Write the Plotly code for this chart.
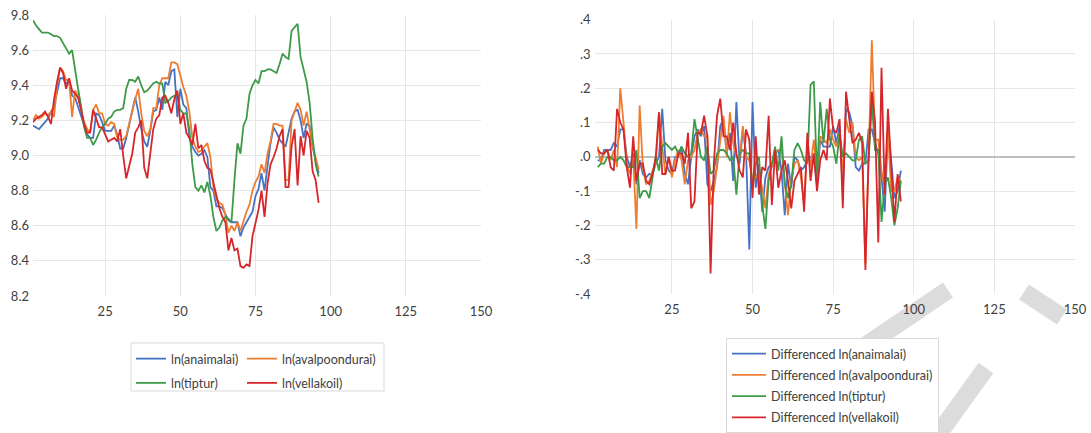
import plotly.graph_objects as go

# ---------------- data ----------------
x_level = list(range(1, 97))
x_diff = list(range(2, 97))

ln_anaimalai = [9.17, 9.16, 9.15, 9.17, 9.19, 9.21, 9.25, 9.28, 9.36, 9.44,
                9.44, 9.41, 9.42, 9.34, 9.33, 9.28, 9.22, 9.17, 9.12, 9.10,
                9.10, 9.24, 9.23, 9.19, 9.14, 9.14, 9.14, 9.17, 9.12, 9.04,
                9.04, 9.10, 9.18, 9.24, 9.33, 9.25, 9.15, 9.08, 9.05, 9.14,
                9.25, 9.26, 9.33, 9.26, 9.42, 9.40, 9.48, 9.49, 9.22, 9.38,
                9.29, 9.27, 9.11, 9.05, 9.02, 9.00, 9.01, 9.03, 8.99, 8.82,
                8.80, 8.71, 8.71, 8.70, 8.66, 8.63, 8.62, 8.62, 8.62, 8.54,
                8.59, 8.62, 8.65, 8.68, 8.77, 8.81, 8.90, 8.80, 8.94, 9.07,
                9.16, 9.13, 9.09, 9.07, 9.05, 9.13, 9.21, 9.25, 9.26, 9.20,
                9.10, 9.18, 9.17, 9.05, 8.98, 8.90]

ln_avalpoondurai = [9.20, 9.23, 9.21, 9.22, 9.24, 9.23, 9.25, 9.22, 9.40, 9.50,
                    9.48, 9.43, 9.43, 9.22, 9.37, 9.34, 9.26, 9.19, 9.15, 9.13,
                    9.26, 9.29, 9.24, 9.24, 9.18, 9.17, 9.19, 9.18, 9.10, 9.09,
                    9.09, 9.11, 9.18, 9.26, 9.32, 9.38, 9.24, 9.14, 9.11, 9.15,
                    9.27, 9.27, 9.40, 9.44, 9.44, 9.44, 9.53, 9.53, 9.52, 9.45,
                    9.39, 9.34, 9.25, 9.10, 9.05, 9.02, 9.03, 9.05, 9.07, 8.99,
                    8.82, 8.75, 8.73, 8.72, 8.66, 8.56, 8.60, 8.57, 8.62, 8.57,
                    8.63, 8.68, 8.72, 8.80, 8.85, 8.88, 8.95, 8.90, 9.01, 9.08,
                    9.18, 9.18, 9.17, 9.17, 8.86, 8.86, 9.20, 9.25, 9.30, 9.26,
                    9.17, 9.25, 9.15, 9.05, 8.99, 8.92]

ln_tiptur = [9.77, 9.74, 9.72, 9.70, 9.70, 9.70, 9.69, 9.68, 9.68, 9.67,
             9.64, 9.61, 9.58, 9.60, 9.48, 9.38, 9.28, 9.16, 9.10, 9.10,
             9.06, 9.09, 9.13, 9.16, 9.18, 9.21, 9.22, 9.25, 9.26, 9.26,
             9.27, 9.38, 9.43, 9.43, 9.42, 9.45, 9.40, 9.36, 9.37, 9.39,
             9.41, 9.42, 9.41, 9.41, 9.30, 9.31, 9.33, 9.34, 9.35, 9.26,
             9.24, 9.24, 9.15, 8.95, 8.82, 8.80, 8.83, 8.79, 8.85, 8.77,
             8.65, 8.57, 8.59, 8.63, 8.65, 8.64, 8.62, 8.86, 9.07, 9.01,
             9.17, 9.21, 9.35, 9.40, 9.43, 9.41, 9.48, 9.48, 9.49, 9.49,
             9.48, 9.47, 9.52, 9.58, 9.56, 9.55, 9.71, 9.73, 9.75, 9.56,
             9.48, 9.42, 9.30, 9.10, 8.95, 8.88]

ln_vellakoil = [9.19, 9.21, 9.22, 9.23, 9.25, 9.22, 9.18, 9.32, 9.42, 9.50,
                9.47, 9.38, 9.44, 9.37, 9.35, 9.33, 9.26, 9.18, 9.13, 9.13,
                9.26, 9.21, 9.16, 9.16, 9.12, 9.08, 9.09, 9.10, 9.08, 9.15,
                9.00, 8.87, 8.94, 9.01, 9.13, 9.16, 9.20, 8.93, 8.87, 9.01,
                9.15, 9.21, 9.23, 9.33, 9.34, 9.30, 9.24, 9.32, 9.37, 9.18,
                9.24, 9.13, 9.10, 9.06, 9.18, 9.04, 9.06, 8.97, 8.93, 8.92,
                8.85, 8.77, 8.70, 8.65, 8.62, 8.46, 8.53, 8.46, 8.47, 8.37,
                8.36, 8.38, 8.37, 8.54, 8.62, 8.69, 8.80, 8.65, 8.84, 8.95,
                8.99, 9.04, 9.11, 9.15, 8.82, 8.82, 9.05, 9.15, 8.83, 9.11,
                9.00, 9.14, 9.10, 8.91, 8.86, 8.73]

d_anaimalai = [-0.01, -0.01, 0.02, 0.02, 0.02, 0.04, 0.03, 0.08, 0.08,
               0.00, -0.03, 0.01, -0.08, -0.01, -0.05, -0.06, -0.05, -0.05, -0.02,
               0.00, 0.14, -0.01, -0.04, -0.05, 0.00, 0.00, 0.03, -0.05, -0.08,
               0.00, 0.06, 0.08, 0.06, 0.09, -0.08, -0.10, -0.07, -0.03, 0.09,
               0.11, 0.01, 0.07, -0.07, 0.16, -0.02, 0.08, 0.01, -0.27, 0.16,
               -0.09, -0.02, -0.16, -0.06, -0.03, -0.02, 0.01, 0.02, -0.04, -0.17,
               -0.02, -0.09, 0.00, -0.01, -0.04, -0.03, -0.01, 0.00, 0.00, -0.08,
               0.05, 0.03, 0.03, 0.03, 0.09, 0.04, 0.09, -0.10, 0.14, 0.13,
               0.09, -0.03, -0.04, -0.02, -0.02, 0.08, 0.08, 0.04, 0.01, -0.06,
               -0.16, 0.08, -0.01, -0.12, -0.10, -0.04]

d_avalpoondurai = [0.03, -0.02, 0.01, 0.02, -0.01, 0.02, -0.03, 0.20, 0.10,
                   -0.02, -0.05, 0.00, -0.21, 0.15, -0.03, -0.08, -0.07, -0.04, -0.02,
                   0.13, 0.03, -0.05, 0.00, -0.06, -0.01, 0.02, -0.01, -0.08, -0.01,
                   0.00, 0.02, 0.07, 0.08, 0.06, 0.06, -0.14, -0.10, -0.03, 0.04,
                   0.12, 0.00, 0.13, 0.04, 0.00, 0.00, 0.09, 0.00, -0.01, -0.07,
                   -0.06, -0.05, -0.09, -0.15, -0.05, -0.03, 0.01, 0.02, 0.02, -0.08,
                   -0.17, -0.07, -0.02, -0.01, -0.06, -0.14, 0.04, -0.03, 0.05, -0.05,
                   0.06, 0.05, 0.04, 0.08, 0.05, 0.03, 0.07, -0.05, 0.11, 0.07,
                   0.10, 0.00, -0.01, 0.00, -0.31, 0.00, 0.34, 0.05, 0.05, -0.04,
                   -0.09, 0.08, -0.10, -0.10, -0.06, -0.07]

d_tiptur = [-0.03, -0.02, -0.02, 0.00, 0.00, -0.01, -0.01, 0.00, -0.01,
            -0.03, -0.03, -0.03, 0.02, -0.12, -0.10, -0.10, -0.12, -0.06, 0.00,
            -0.04, 0.03, 0.04, 0.03, 0.02, 0.03, 0.01, 0.03, 0.01, 0.00,
            0.01, 0.11, 0.05, 0.00, -0.01, 0.03, -0.05, -0.04, 0.01, 0.02,
            0.02, 0.01, -0.01, 0.00, -0.11, 0.01, 0.02, 0.01, 0.01, -0.09,
            -0.02, 0.00, -0.14, -0.21, -0.07, -0.02, 0.03, -0.04, 0.06, -0.08,
            -0.12, -0.08, 0.02, 0.04, 0.02, -0.01, -0.02, 0.21, 0.22, -0.06,
            0.16, 0.04, 0.14, 0.05, 0.03, -0.02, 0.07, 0.00, 0.01, 0.00,
            -0.01, -0.01, 0.05, 0.06, -0.02, -0.01, 0.16, 0.02, 0.02, -0.19,
            -0.08, -0.06, -0.12, -0.20, -0.15, -0.07]

d_vellakoil = [0.02, 0.01, 0.01, 0.02, -0.03, -0.04, 0.14, 0.10, 0.08,
               -0.03, -0.09, 0.06, -0.07, -0.02, -0.02, -0.07, -0.08, -0.05, 0.00,
               0.13, -0.05, -0.05, 0.00, -0.04, -0.04, 0.01, 0.01, -0.02, 0.07,
               -0.15, -0.13, 0.07, 0.07, 0.12, 0.06, -0.34, -0.02, 0.12, 0.17,
               0.06, 0.06, 0.02, 0.10, 0.01, -0.04, -0.06, 0.08, 0.05, -0.12,
               0.06, -0.11, -0.03, -0.04, 0.12, -0.14, 0.02, -0.09, -0.04, -0.01,
               -0.07, -0.15, -0.07, -0.05, -0.03, -0.16, 0.07, -0.07, 0.01, -0.10,
               -0.01, 0.02, -0.01, 0.17, 0.08, 0.07, 0.11, -0.15, 0.19, 0.11,
               0.04, 0.05, 0.07, 0.04, -0.33, 0.00, 0.19, 0.10, -0.25, 0.26,
               -0.11, 0.14, -0.04, -0.19, -0.05, -0.13]

x_ticks = [25, 50, 75, 100, 125, 150]
y1_ticks = [8.2, 8.4, 8.6, 8.8, 9.0, 9.2, 9.4, 9.6, 9.8]
y1_labels = ["8.2", "8.4", "8.6", "8.8", "9.0", "9.2", "9.4", "9.6", "9.8"]
y2_ticks = [-0.4, -0.3, -0.2, -0.1, 0.0, 0.1, 0.2, 0.3, 0.4]
y2_labels = ["-.4", "-.3", "-.2", "-.1", ".0", ".1", ".2", ".3", ".4"]

# ---------------- figure ----------------
W, H = 1091, 433
BLUE, ORANGE, GREEN, RED = "#4472C4", "#ED7D31", "#3D9A48", "#D7262B"
FONT = "Lato, 'Open Sans', sans-serif"
TXT = "#404040"


def px_x(p):
    return p / W


def px_y(p):
    return (H - p) / H


fig = go.Figure()

# left chart: two legend columns (col 1: anaimalai, tiptur; col 2: avalpoondurai, vellakoil)
level_series = [("ln(anaimalai)", ln_anaimalai, BLUE, "legend"),
                ("ln(avalpoondurai)", ln_avalpoondurai, ORANGE, "legend3"),
                ("ln(tiptur)", ln_tiptur, GREEN, "legend"),
                ("ln(vellakoil)", ln_vellakoil, RED, "legend3")]
for name, vals, col, leg in level_series:
    fig.add_trace(go.Scatter(x=x_level, y=vals, mode="lines", name=name,
                             line=dict(color=col, width=1.8),
                             xaxis="x", yaxis="y", legend=leg,
                             legendgroup=name))

diff_series = [("Differenced ln(anaimalai)", d_anaimalai, BLUE),
               ("Differenced ln(avalpoondurai)", d_avalpoondurai, ORANGE),
               ("Differenced ln(tiptur)", d_tiptur, GREEN),
               ("Differenced ln(vellakoil)", d_vellakoil, RED)]
for name, vals, col in diff_series:
    fig.add_trace(go.Scatter(x=x_diff, y=vals, mode="lines", name=name,
                             line=dict(color=col, width=1.8),
                             xaxis="x2", yaxis="y2", legend="legend2",
                             legendgroup=name))

grid = "#e6e6e6"
axis_common = dict(showline=False, ticks="", showgrid=True, automargin=False,
                   gridcolor=grid, gridwidth=1,
                   tickfont=dict(family=FONT, size=13, color=TXT))

leg_font = dict(family=FONT, size=12.5, color=TXT)

# light-grey watermark strokes (bottom right of the page)
WM = "#dcdcdc"
wm_strokes = [((948, 290), (862, 348)),
              ((986, 368), (934, 440)),
              ((1024, 292), (1062, 317))]
shapes = [dict(type="line", xref="paper", yref="paper",
               x0=px_x(a[0]), y0=px_y(a[1]), x1=px_x(b[0]), y1=px_y(b[1]),
               line=dict(color=WM, width=18), layer="below")
          for a, b in wm_strokes]
shapes.append(dict(type="rect", xref="paper", yref="paper",
                   x0=px_x(131), x1=px_x(384), y0=px_y(391), y1=px_y(343),
                   line=dict(color="#d9d9d9", width=1), fillcolor="white",
                   layer="above"))

fig.update_layout(
    width=W, height=H,
    margin=dict(l=0, r=0, t=0, b=0, autoexpand=False),
    paper_bgcolor="white", plot_bgcolor="white",
    font=dict(family=FONT, size=12, color=TXT),
    xaxis=dict(domain=[px_x(33), px_x(481)], anchor="y", range=[1, 150],
               tickvals=x_ticks, ticklabelstandoff=6, zeroline=False,
               **axis_common),
    yaxis=dict(domain=[px_y(296), px_y(15)], anchor="x", range=[8.2, 9.8],
               tickvals=y1_ticks, ticktext=y1_labels, ticklabelstandoff=3,
               zeroline=False, **axis_common),
    xaxis2=dict(domain=[px_x(594.5), px_x(1075)], anchor="y2", range=[1, 150],
                tickvals=x_ticks, ticklabelstandoff=6, zeroline=False,
                **axis_common),
    yaxis2=dict(domain=[px_y(294), px_y(19.7)], anchor="x2", range=[-0.4, 0.4],
                tickvals=y2_ticks, ticktext=y2_labels, ticklabelstandoff=3,
                zeroline=True, zerolinecolor="#bfbfbf", zerolinewidth=1.5,
                **axis_common),
    legend=dict(orientation="v", x=px_x(131), y=px_y(344),
                xanchor="left", yanchor="top", xref="container", yref="container",
                bgcolor="rgba(0,0,0,0)", borderwidth=0,
                font=leg_font, tracegroupgap=5, itemwidth=30),
    legend3=dict(orientation="v", x=px_x(242), y=px_y(344),
                 xanchor="left", yanchor="top", xref="container", yref="container",
                 bgcolor="rgba(0,0,0,0)", borderwidth=0,
                 font=leg_font, tracegroupgap=5, itemwidth=30),
    legend2=dict(orientation="v", x=px_x(726), y=px_y(338),
                 xanchor="left", yanchor="top", xref="container", yref="container",
                 bgcolor="white", bordercolor="#d9d9d9", borderwidth=1,
                 font=leg_font, tracegroupgap=2, itemwidth=34),
    showlegend=True,
    shapes=shapes,
)

# remove the browser's default 8px page margin so the figure sits at (0, 0)
fig.write_html("out.html", config={"displayModeBar": False},
               post_script="document.body.style.margin='0px';")
